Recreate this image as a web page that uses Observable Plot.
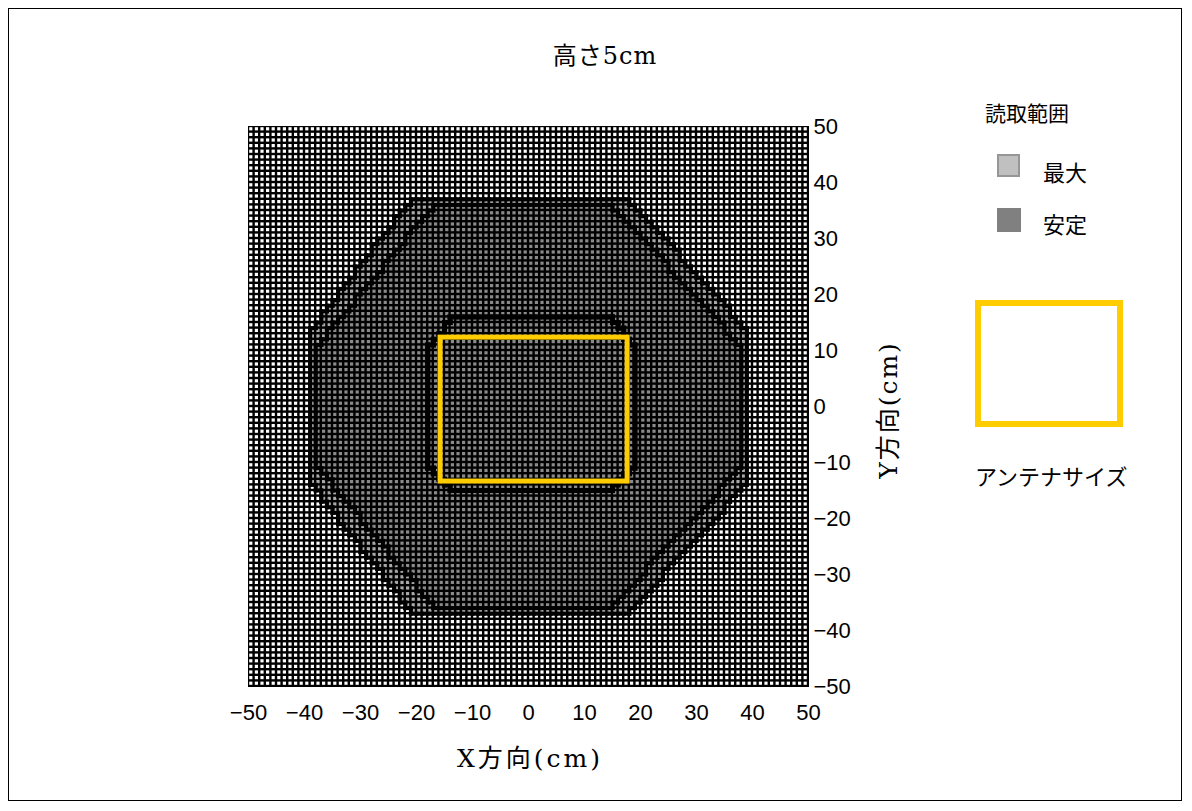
<!DOCTYPE html>
<html>
<head>
<meta charset="utf-8">
<script src="https://cdn.jsdelivr.net/npm/d3@7"></script>
<script src="https://cdn.jsdelivr.net/npm/@observablehq/plot@0.6"></script>
<style>
  html, body { margin: 0; padding: 0; background: #fff; }
  #wrap { position: relative; width: 1192px; height: 811px; overflow: hidden; }
  #frame { position: absolute; left: 8px; top: 8px; width: 1174px; height: 793px; border: 1px solid #000; box-sizing: border-box; }
  .t { position: absolute; white-space: nowrap; color: #000; }
  .serif { font-family: "DejaVu Serif", "Noto Sans CJK JP", serif; }
  .sans { font-family: "Noto Sans CJK JP", "Liberation Sans", sans-serif; }
  #chart { position: absolute; left: 0; top: 0; }
</style>
</head>
<body>
<div id="wrap">
  <div id="frame"></div>
  <div id="chart"></div>
  <div class="t serif" style="left:0;width:1210px;text-align:center;top:36px;font-size:24px;letter-spacing:1px;">高さ5cm</div>
  <div class="t serif" style="left:380px;width:300px;text-align:center;top:738px;font-size:25px;letter-spacing:3px;">X方向(cm)</div>
  <div class="t serif" style="left:886px;top:410px;font-size:25px;letter-spacing:2px;transform:translate(-50%,-50%) rotate(-90deg);">Y方向(cm)</div>
  <div class="t serif" style="left:985px;top:97px;font-size:21px;">読取範囲</div>
  <div style="position:absolute;left:997px;top:154px;width:23px;height:23px;background:#c0c0c0;border:2px solid #969696;box-sizing:border-box;"></div>
  <div class="t serif" style="left:1043px;top:155px;font-size:22px;">最大</div>
  <div style="position:absolute;left:997px;top:208px;width:24px;height:24px;background:#808080;"></div>
  <div class="t serif" style="left:1043px;top:207px;font-size:22px;">安定</div>
  <div style="position:absolute;left:975px;top:300px;width:148px;height:127px;border:6px solid #FFCC00;box-sizing:border-box;"></div>
  <div class="t sans" style="left:975px;top:459px;font-size:22px;">アンテナサイズ</div>
</div>
<script>
// ---- data (cm) ----
const xTicks = [-50, -40, -30, -20, -10, 0, 10, 20, 30, 40, 50];
const yTicks = [-50, -40, -30, -20, -10, 0, 10, 20, 30, 40, 50];
// 読取範囲 最大 (outer octagon)
const maxRegion = [[-21, 37], [18, 37], [38.7, 14], [38.7, -14], [18, -36.5], [-21, -36.5], [-38.6, -14], [-38.6, 14]];
// 読取範囲 安定 (inner octagon)
const stableRegion = [[-17, 36], [15, 36], [37.7, 11], [37.7, -11], [15, -35.5], [-17, -35.5], [-37.6, -11], [-37.6, 11]];
// dark contour around antenna
const coreRegion = [[-13.5, 15.7], [14.5, 15.7], [18.8, 11], [18.8, -11], [14.5, -15.3], [-13.5, -15.3], [-17.5, -11], [-17.5, 11]];
// アンテナサイズ
const antennaX = [-15.7, 17.7];
const antennaY = [-13.4, 12.3];

// ---- build cells ----
const N = 100, X0 = -50;
const inPoly = (poly) => {
  const g = [];
  for (let i = 0; i < N; i++) {
    g.push([]);
    for (let j = 0; j < N; j++) g[i].push(d3.polygonContains(poly, [X0 + i + 0.5, X0 + j + 0.5]));
  }
  return g;
};
const gMax = inPoly(maxRegion), gStable = inPoly(stableRegion), gCore = inPoly(coreRegion);
const cells = [];
for (let i = 0; i < N; i++) for (let j = 0; j < N; j++) {
  cells.push({x1: X0 + i, x2: X0 + i + 1, y1: X0 + j, y2: X0 + j + 1,
    fill: gStable[i][j] ? "#8a8a8a" : gMax[i][j] ? "#a8a8a8" : "#ffffff"});
}
const edges = (g) => {
  const s = [];
  for (let i = 0; i < N; i++) for (let j = 0; j < N; j++) {
    if (i > 0 && g[i][j] !== g[i - 1][j]) s.push({x1: X0 + i, x2: X0 + i, y1: X0 + j, y2: X0 + j + 1});
    if (j > 0 && g[i][j] !== g[i][j - 1]) s.push({x1: X0 + i, x2: X0 + i + 1, y1: X0 + j, y2: X0 + j});
  }
  return s;
};

const plot = Plot.plot({
  width: 1192, height: 811,
  marginLeft: 248, marginRight: 384, marginTop: 126, marginBottom: 125,
  style: {fontFamily: "Liberation Sans, Arial, sans-serif", fontSize: "22px", background: "transparent"},
  x: {domain: [-50, 50]},
  y: {domain: [-50, 50]},
  marks: [
    Plot.frame({fill: "#000", stroke: "#000"}),
    Plot.rect(cells, {x1: "x1", x2: "x2", y1: "y1", y2: "y2", fill: d => d.fill, inset: 1.2}),
    Plot.link(edges(gMax), {x1: "x1", y1: "y1", x2: "x2", y2: "y2", stroke: "#000", strokeWidth: 4, strokeLinecap: "square"}),
    Plot.link(edges(gStable), {x1: "x1", y1: "y1", x2: "x2", y2: "y2", stroke: "#000", strokeWidth: 4, strokeLinecap: "square"}),
    Plot.link(edges(gCore), {x1: "x1", y1: "y1", x2: "x2", y2: "y2", stroke: "#000", strokeWidth: 5, strokeLinecap: "square"}),
    Plot.rect([{x1: antennaX[0], x2: antennaX[1], y1: antennaY[0], y2: antennaY[1]}],
      {x1: "x1", x2: "x2", y1: "y1", y2: "y2", fill: "none", stroke: "#FFCC00", strokeWidth: 5}),
    Plot.axisX({ticks: xTicks, tickSize: 0, tickPadding: 18, fontSize: 22, label: null, anchor: "bottom"}),
    Plot.axisY({ticks: yTicks, tickSize: 0, tickPadding: 5, fontSize: 22, label: null, anchor: "right"})
  ]
});
document.getElementById("chart").appendChild(plot);
</script>
</body>
</html>
